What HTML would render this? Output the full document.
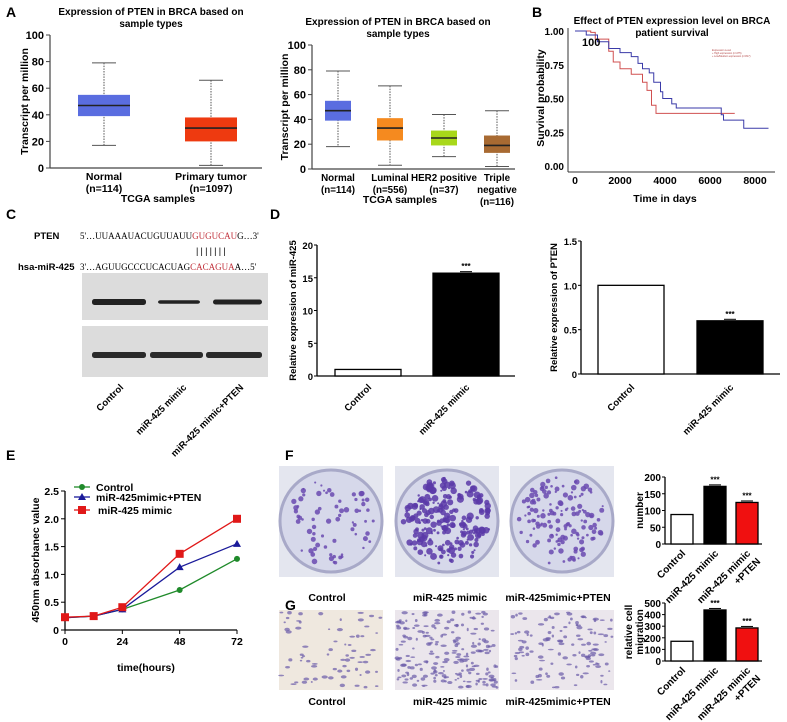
<!DOCTYPE html>
<html><head><meta charset="utf-8">
<style>
html,body{margin:0;padding:0;background:#fff;}
svg{display:block;font-family:"Liberation Sans",Arial,sans-serif;}
</style></head>
<body>
<svg id="fig" width="787" height="722" viewBox="0 0 787 722" xmlns="http://www.w3.org/2000/svg">
<g id="static" font-weight="bold" fill="#000">
 <text x="6" y="17" font-size="14">A</text>
 <text x="532" y="17" font-size="14">B</text>
 <text x="6" y="219" font-size="14">C</text>
 <text x="270" y="219" font-size="14">D</text>
 <text x="6" y="460" font-size="14">E</text>
 <text x="285" y="460" font-size="14">F</text>
 <text x="285" y="610" font-size="14">G</text>
</g>
<g id="A1"></g>
<g id="A2"></g>
<g id="B"></g>
<g id="C"></g>
<g id="D1"></g>
<g id="D2"></g>
<g id="E"></g>
<g id="F"></g>
<g id="FB"></g>
<g id="GB"></g>
</svg>
<script>
// ---------- data ----------
const a1Cats=["Normal","Primary tumor"];
const a1Ns=["(n=114)","(n=1097)"];
const a1Min=[17,2], a1Q1=[39,20], a1Med=[47,30], a1Q3=[55,38], a1Max=[79,66];
const a1Colors=["#5a6de0","#ee3a10"];
const a2Cats=["Normal","Luminal","HER2 positive","Triple"];
const a2Ns=["(n=114)","(n=556)","(n=37)","negative"];
const a2Min=[18,3,10,2], a2Q1=[39,23,19,13], a2Med=[47,33,25,19], a2Q3=[55,41,31,27], a2Max=[79,67,44,47];
const a2Colors=["#5a6de0","#f58a1f","#a8d81a","#a86a32"];
const yTicksA=[0,20,40,60,80,100];
const bTimeBlue=[0,500,1000,1500,2000,2500,2800,3000,3300,3500,3800,3900,4300,4500,6400,6500,6600,7400,7500,8600];
const bProbBlue=[1,0.97,0.92,0.87,0.84,0.81,0.76,0.72,0.69,0.62,0.55,0.50,0.46,0.43,0.43,0.38,0.34,0.34,0.28,0.28];
const bTimeRed=[0,700,900,1500,1700,2000,2500,3000,3200,3400,3600,7100];
const bProbRed=[1,0.99,0.94,0.85,0.77,0.72,0.68,0.62,0.56,0.45,0.39,0.39];
const bXTicks=[0,2000,4000,6000,8000];
const bYTicks=[0,0.25,0.5,0.75,1.0];
const bYLabels=["0.00","0.25","0.50","0.75","1.00"];
const d1Cats=["Control","miR-425 mimic"], d1Vals=[1,15.7], d1Ticks=[0,5,10,15,20];
const d2Cats=["Control","miR-425 mimic"], d2Vals=[1,0.6], d2Ticks=[0,0.5,1.0,1.5], d2Labels=["0","0.5","1.0","1.5"];
const eTimes=[0,12,24,48,72];
const eControl=[0.22,0.25,0.37,0.72,1.28];
const ePten=[0.22,0.25,0.37,1.13,1.55];
const eMimic=[0.23,0.25,0.41,1.37,2.0];
const eYTicks=[0,0.5,1.0,1.5,2.0,2.5], eYLabels=["0","0.5","1.0","1.5","2.0","2.5"], eXTicks=[0,24,48,72];
const fCats=["Control","miR-425 mimic","miR-425 mimic"], fVals=[88,172,124], fTicks=[0,50,100,150,200];
const gVals=[170,440,285], gTicks=[0,100,200,300,400,500];
const NS="http://www.w3.org/2000/svg";
function el(parent,tag,attrs,text){const e=document.createElementNS(NS,tag);for(const k in attrs)e.setAttribute(k,attrs[k]);if(text!==undefined)e.textContent=text;parent.appendChild(e);return e;}
function lin(d0,d1,r0,r1){return v=>r0+(v-d0)*(r1-r0)/(d1-d0);}

// ---------- boxplots ----------
function boxplot(gid,x0,x1,yTop,yBot,cats,ns,mn,q1,md,q3,mx,cols,centers,bw,title,titleX,ylabX,fs){
 const g=document.getElementById(gid);const y=lin(0,100,yBot,yTop);
 el(g,"line",{x1:x0,y1:yTop,x2:x0,y2:yBot,stroke:"#444","stroke-width":1.2});
 el(g,"line",{x1:x0,y1:yBot,x2:x1,y2:yBot,stroke:"#444","stroke-width":1.2});
 yTicksA.forEach(t=>{el(g,"line",{x1:x0-4,x2:x0,y1:y(t),y2:y(t),stroke:"#444"});
  const tl=el(g,"text",{x:x0-6,y:y(t)+4,"text-anchor":"end","font-size":11,"font-weight":"bold"},t);
  
  });
 cats.forEach((c,i)=>{const cx=centers[i];
  const w=el(g,"line",{x1:cx,x2:cx,y1:y(mx[i]),y2:y(mn[i]),stroke:"#555","stroke-dasharray":"1.5,1.2"});
  
  
  el(g,"line",{x1:cx-12,x2:cx+12,y1:y(mx[i]),y2:y(mx[i]),stroke:"#555"});
  el(g,"line",{x1:cx-12,x2:cx+12,y1:y(mn[i]),y2:y(mn[i]),stroke:"#555"});
  const b=el(g,"rect",{x:cx-bw/2,y:y(q3[i]),width:bw,height:y(q1[i])-y(q3[i]),fill:cols[i]});
  
  
  el(g,"line",{x1:cx-bw/2,x2:cx+bw/2,y1:y(md[i]),y2:y(md[i]),stroke:"#222","stroke-width":1.6});
  const l=el(g,"text",{x:cx,y:yBot+12,"text-anchor":"middle","font-size":fs,"font-weight":"bold"},c);
  
  
  el(g,"text",{x:cx,y:yBot+24,"text-anchor":"middle","font-size":fs,"font-weight":"bold"},ns[i]);
 });
 el(g,"text",{x:titleX,y:yTop-20,"text-anchor":"middle","font-size":10,"font-weight":"bold"},title[0]);
 el(g,"text",{x:titleX,y:yTop-8,"text-anchor":"middle","font-size":10,"font-weight":"bold"},title[1]);
 el(g,"text",{transform:`translate(${ylabX},${(yTop+yBot)/2}) rotate(-90)`,"text-anchor":"middle","font-size":10.5,"font-weight":"bold"},"Transcript per million");
}
boxplot("A1",50,262,35,168,a1Cats,a1Ns,a1Min,a1Q1,a1Med,a1Q3,a1Max,a1Colors,[104,211],52,["Expression of PTEN in BRCA based on","sample types"],151,28,10.5);
el(document.getElementById("A1"),"text",{x:158,y:202,"text-anchor":"middle","font-size":10.5,"font-weight":"bold"},"TCGA samples");
boxplot("A2",312,515,45,169,a2Cats,a2Ns,a2Min,a2Q1,a2Med,a2Q3,a2Max,a2Colors,[338,390,444,497],26,["Expression of PTEN in BRCA based on","sample types"],398,288,9.8);
el(document.getElementById("A2"),"text",{x:497,y:205,"text-anchor":"middle","font-size":9.8,"font-weight":"bold"},"(n=116)");
el(document.getElementById("A2"),"text",{x:400,y:203,"text-anchor":"middle","font-size":10.5,"font-weight":"bold"},"TCGA samples");

// ---------- survival ----------
(function(){const g=document.getElementById("B");const x=lin(0,8000,575,755),y=lin(0,1,166,31);
 el(g,"line",{x1:568,y1:28,x2:568,y2:172,stroke:"#333"});
 el(g,"line",{x1:568,y1:172,x2:775,y2:172,stroke:"#333"});
 bYTicks.forEach((t,i)=>el(g,"text",{x:564,y:y(t)+4,"text-anchor":"end","font-size":10,"font-weight":"bold"},bYLabels[i]));
 bXTicks.forEach(t=>el(g,"text",{x:x(t),y:184,"text-anchor":"middle","font-size":10.5,"font-weight":"bold"},t));
 function step(ts,ps,col,name){let d=`M${x(ts[0])},${y(ps[0])}`;for(let i=1;i<ts.length;i++){d+=`H${x(ts[i])}V${y(ps[i])}`;}
  const p=el(g,"path",{d:d,fill:"none",stroke:col,"stroke-width":1});
  
  }
 step(bTimeRed,bProbRed,"#d05050","survival-curve-high");
 step(bTimeBlue,bProbBlue,"#3a3aa8","survival-curve-low");
 el(g,"text",{x:672,y:24,"text-anchor":"middle","font-size":10,"font-weight":"bold"},"Effect of PTEN expression level on BRCA");
 el(g,"text",{x:672,y:36,"text-anchor":"middle","font-size":10,"font-weight":"bold"},"patient survival");
 el(g,"text",{x:582,y:46,"font-size":11,"font-weight":"bold"},"100");
 el(g,"text",{x:712,y:51,"font-size":2.5,fill:"#b04040"},"Expression Level");
 el(g,"text",{x:712,y:54,"font-size":2.5,fill:"#b04040"},"+ High expression (n=275)");
 el(g,"text",{x:712,y:57,"font-size":2.5,fill:"#b04040"},"+ Low/Medium expression (n=817)");
 el(g,"text",{transform:"translate(544,98) rotate(-90)","text-anchor":"middle","font-size":10.5,"font-weight":"bold"},"Survival probability");
 el(g,"text",{x:665,y:202,"text-anchor":"middle","font-size":10.5,"font-weight":"bold"},"Time in days");
})();

// ---------- C ----------
(function(){const g=document.getElementById("C");
 el(g,"text",{x:34,y:239,"font-size":9.5,"font-weight":"bold"},"PTEN");
 el(g,"text",{x:18,y:270,"font-size":9.5,"font-weight":"bold"},"hsa-miR-425");
 const t1=el(g,"text",{x:80,y:239,"font-size":9,"font-family":"Liberation Serif,serif"});
 el(t1,"tspan",{},"5'…UUAAAUACUGUUAUU");el(t1,"tspan",{fill:"#c0303a"},"GUGUCAU");el(t1,"tspan",{},"G…3'");
 const t2=el(g,"text",{x:80,y:270,"font-size":9,"font-family":"Liberation Serif,serif"});
 el(t2,"tspan",{},"3'…AGUUGCCCUCACUAG");el(t2,"tspan",{fill:"#c0303a"},"CACAGUA");el(t2,"tspan",{},"A…5'");
 el(g,"text",{x:196,y:254,"font-size":9,"letter-spacing":"2.2"},"|||||||");
 const bl1=el(g,"rect",{x:82,y:273,width:186,height:47,fill:"#dcdcdc"});
 
 
 const bl2=el(g,"rect",{x:82,y:326,width:186,height:51,fill:"#dcdcdc"});
 
 
 [[92,146,6],[158,200,3.5],[213,262,5]].forEach(b=>el(g,"rect",{x:b[0],y:302-b[2]/2,width:b[1]-b[0],height:b[2],rx:2.5,fill:"#222"}));
 [[92,146],[150,203],[206,262]].forEach(b=>el(g,"rect",{x:b[0],y:352,width:b[1]-b[0],height:6,rx:2.5,fill:"#2a2a2a"}));
 [["Control",118],["miR-425 mimic",181],["miR-425 mimic+PTEN",238]].forEach(l=>el(g,"text",{transform:`translate(${l[1]+6},388) rotate(-45)`,"text-anchor":"end","font-size":9.5,"font-weight":"bold"},l[0]));
})();

// ---------- bar charts ----------
function bars(gid,x0,x1,yTop,yBot,maxV,ticks,tickLabels,cats,vals,fills,centers,bw,ylab,ylabX,stars,fs){
 const g=document.getElementById(gid);const y=lin(0,maxV,yBot,yTop);
 el(g,"line",{x1:x0,y1:yTop,x2:x0,y2:yBot,stroke:"#000","stroke-width":1.3});
 el(g,"line",{x1:x0,y1:yBot,x2:x1,y2:yBot,stroke:"#000","stroke-width":1.3});
 ticks.forEach((t,i)=>{el(g,"line",{x1:x0-3,x2:x0,y1:y(t),y2:y(t),stroke:"#000"});
  el(g,"text",{x:x0-4,y:y(t)+4,"text-anchor":"end","font-size":fs,"font-weight":"bold"},tickLabels?tickLabels[i]:t);});
 vals.forEach((v,i)=>{const cx=centers[i];
  const r=el(g,"rect",{x:cx-bw/2,y:y(v),width:bw,height:yBot-y(v),fill:fills[i],stroke:"#000","stroke-width":1.3});
  
  
  if(stars[i]){el(g,"line",{x1:cx-6,x2:cx+6,y1:y(v)-1.5,y2:y(v)-1.5,stroke:"#000"});
   el(g,"text",{x:cx,y:y(v)-4,"text-anchor":"middle","font-size":8,"font-weight":"bold"},"***");}
 });
 const lines=ylab.split("|");
 lines.forEach((s,i)=>el(g,"text",{transform:`translate(${ylabX+i*11},${(yTop+yBot)/2}) rotate(-90)`,"text-anchor":"middle","font-size":fs,"font-weight":"bold"},s));
 return y;
}
bars("D1",317,515,245,376,20,d1Ticks,null,d1Cats,d1Vals,["#fff","#000"],[368,466],66,"Relative expression of miR-425",296,[0,1],9.5);
d1Cats.forEach((c,i)=>el(document.getElementById("D1"),"text",{transform:`translate(${[368,466][i]+4},388) rotate(-45)`,"text-anchor":"end","font-size":9.5,"font-weight":"bold"},c));
bars("D2",581,780,241,374,1.5,d2Ticks,d2Labels,d2Cats,d2Vals,["#fff","#000"],[631,730],66,"Relative expression of PTEN",557,[0,1],9.5);
d2Cats.forEach((c,i)=>el(document.getElementById("D2"),"text",{transform:`translate(${[631,730][i]+4},388) rotate(-45)`,"text-anchor":"end","font-size":9.5,"font-weight":"bold"},c));
bars("FB",665,762,477,544,200,fTicks,null,fCats,fVals,["#fff","#000","#f01010"],[682,715,747],22,"number",643,[0,1,1],10);
bars("GB",665,762,603,661,500,gTicks,null,fCats,gVals,["#fff","#000","#f01010"],[682,715,747],22,"relative cell|migration",632,[0,1,1],10);
[["FB",546],["GB",663]].forEach(([id,yb])=>{const g=document.getElementById(id);
 el(g,"text",{transform:`translate(${686},${yb+8}) rotate(-45)`,"text-anchor":"end","font-size":10,"font-weight":"bold"},"Control");
 el(g,"text",{transform:`translate(${719},${yb+8}) rotate(-45)`,"text-anchor":"end","font-size":10,"font-weight":"bold"},"miR-425 mimic");
 el(g,"text",{transform:`translate(${751},${yb+8}) rotate(-45)`,"text-anchor":"end","font-size":10,"font-weight":"bold"},"miR-425 mimic");
 el(g,"text",{transform:`translate(${761},${yb+16}) rotate(-45)`,"text-anchor":"end","font-size":10,"font-weight":"bold"},"+PTEN");
});

// ---------- E line chart ----------
(function(){const g=document.getElementById("E");const x=lin(0,72,65,237),y=lin(0,2.5,630,491);
 el(g,"line",{x1:65,y1:491,x2:65,y2:630,stroke:"#000","stroke-width":1.3});
 el(g,"line",{x1:65,y1:630,x2:237,y2:630,stroke:"#000","stroke-width":1.3});
 eYTicks.forEach((t,i)=>{el(g,"line",{x1:61,x2:65,y1:y(t),y2:y(t),stroke:"#000"});
  el(g,"text",{x:59,y:y(t)+4,"text-anchor":"end","font-size":10.5,"font-weight":"bold"},eYLabels[i]);});
 eXTicks.forEach(t=>{el(g,"line",{x1:x(t),x2:x(t),y1:630,y2:634,stroke:"#000"});
  el(g,"text",{x:x(t),y:645,"text-anchor":"middle","font-size":10.5,"font-weight":"bold"},t);});
 const series=[[eControl,"#1f8a2a","circle","line-control"],[ePten,"#1a1a9a","tri","line-mimic-pten"],[eMimic,"#e01818","sq","line-mimic"]];
 series.forEach(([vals,col,m,name])=>{
  const p=el(g,"polyline",{points:vals.map((v,i)=>x(eTimes[i])+","+y(v)).join(" "),fill:"none",stroke:col,"stroke-width":1.3});
  
  
  vals.forEach((v,i)=>{const cx=x(eTimes[i]),cy=y(v);
   if(m==="circle")el(g,"circle",{cx:cx,cy:cy,r:3,fill:col});
   else if(m==="tri")el(g,"polygon",{points:`${cx},${cy-4} ${cx-4},${cy+3} ${cx+4},${cy+3}`,fill:col});
   else el(g,"rect",{x:cx-4,y:cy-4,width:8,height:8,fill:col});});
 });
 const leg=[["Control","#1f8a2a","circle",487],["miR-425mimic+PTEN","#1a1a9a","tri",497],["miR-425 mimic","#e01818","sq",510]];
 leg.forEach(([t,col,m,ly])=>{el(g,"line",{x1:74,x2:90,y1:ly,y2:ly,stroke:col,"stroke-width":1.3});
  if(m==="circle")el(g,"circle",{cx:82,cy:ly,r:3,fill:col});
  else if(m==="tri")el(g,"polygon",{points:`82,${ly-4} 78,${ly+3} 86,${ly+3}`,fill:col});
  else el(g,"rect",{x:78,y:ly-4,width:8,height:8,fill:col});
  const lt=el(g,"text",{x:m==="sq"?98:96,y:ly+4,"font-size":10.5,"font-weight":"bold"},t);
  
  });
 el(g,"text",{transform:"translate(39,560) rotate(-90)","text-anchor":"middle","font-size":10.5,"font-weight":"bold"},"450nm absorbanec value");
 el(g,"text",{x:146,y:671,"text-anchor":"middle","font-size":10.5,"font-weight":"bold"},"time(hours)");
})();

// ---------- F/G images ----------
(function(){const g=document.getElementById("F");let s=7;const rnd=()=>{s=(s*16807)%2147483647;return s/2147483647;};
 const cx=[331,447,562],dens=[70,220,140];
 cx.forEach((c,i)=>{
  el(g,"rect",{x:c-52,y:466,width:104,height:111,fill:"#e4e6ef"});
  const pl=el(g,"circle",{cx:c,cy:521,r:51,fill:"#d6d8ea",stroke:"#a8a9c8","stroke-width":3});
  
  
  for(let k=0;k<dens[i];k++){const a=rnd()*6.283,r=Math.sqrt(rnd())*44;el(g,"circle",{cx:c+r*Math.cos(a),cy:521+r*Math.sin(a),r:1+rnd()*(i===1?2.6:1.8),fill:i===1?"#5a3aa8":"#6a4ab0","fill-opacity":0.85});}
  el(g,"rect",{x:c-52,y:610,width:104,height:80,fill:i===0?"#efe8df":"#ebe6ec"});
  const md=[70,200,120][i];
  for(let k=0;k<md;k++){el(g,"ellipse",{cx:c-50+rnd()*100,cy:612+rnd()*76,rx:1+rnd()*2.2,ry:0.8+rnd()*1,fill:"#6a5aa8","fill-opacity":0.7});}
  const lbl=["Control","miR-425 mimic","miR-425mimic+PTEN"][i];
  el(g,"text",{x:[327,450,558][i],y:601,"text-anchor":"middle","font-size":10.5,"font-weight":"bold"},lbl);
  el(g,"text",{x:[327,450,558][i],y:705,"text-anchor":"middle","font-size":10.5,"font-weight":"bold"},lbl);
 });
})();
</script>
</body></html>
